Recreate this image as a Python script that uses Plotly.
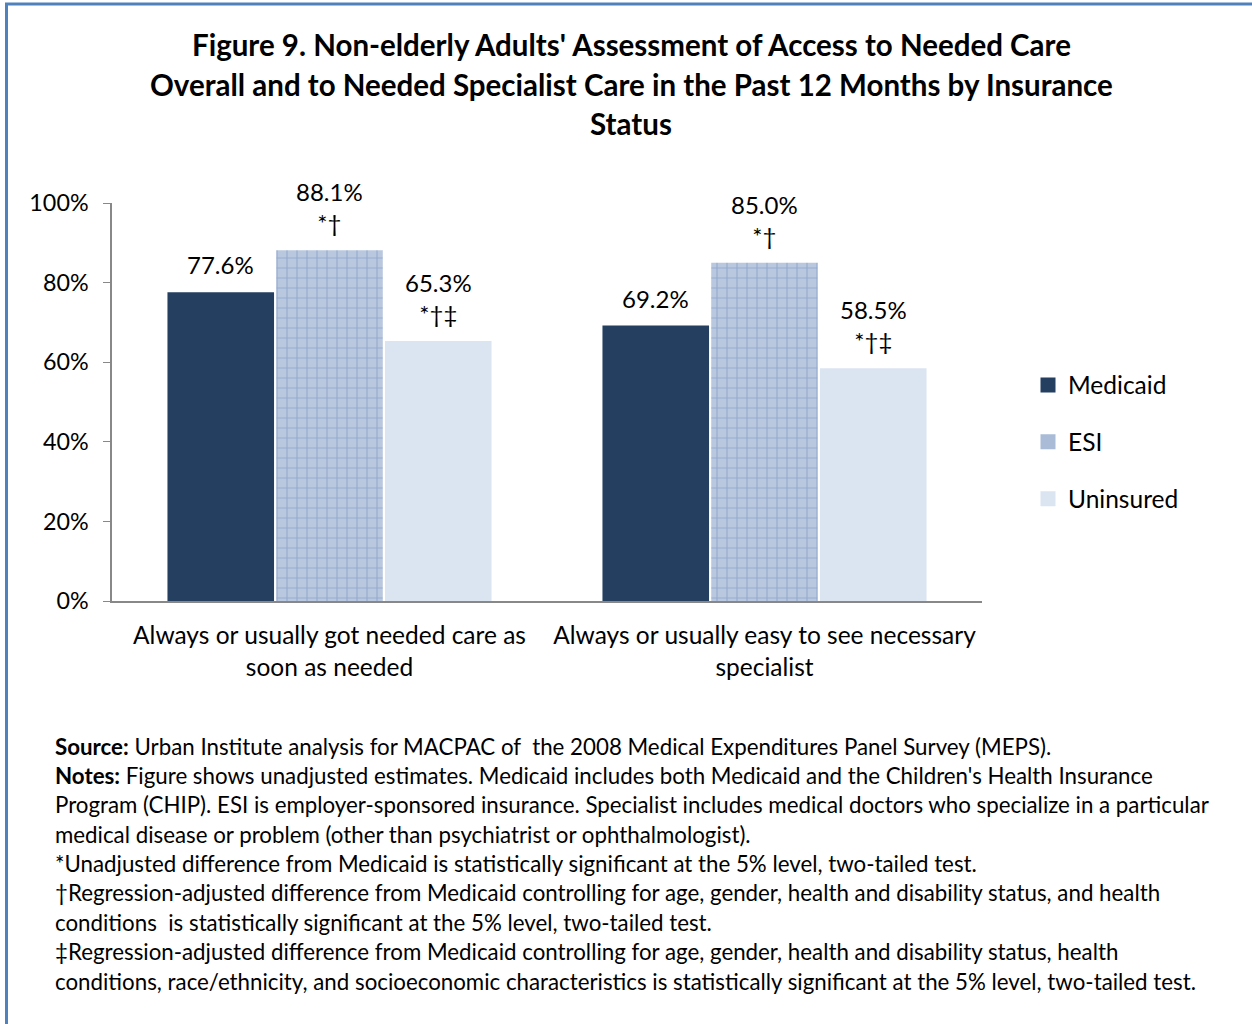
import plotly.graph_objects as go

categories = ["Always or usually got needed care as<br>soon as needed",
              "Always or usually easy to see necessary<br>specialist"]
series_names = ["Medicaid", "ESI", "Uninsured"]
medicaid = [77.6, 69.2]
esi = [88.1, 85.0]
uninsured = [65.3, 58.5]
sig_marks = {"Medicaid": ["", ""], "ESI": ["*†", "*†"], "Uninsured": ["*†‡", "*†‡"]}
y_ticks = [0, 20, 40, 60, 80, 100]
y_tick_labels = ["0%", "20%", "40%", "60%", "80%", "100%"]

title_lines = ["Figure 9. Non-elderly Adults' Assessment of Access to Needed Care",
               "Overall and to Needed Specialist Care in the Past 12 Months by Insurance",
               "Status"]
note_lines = [
    "<b>Source:</b> Urban Institute analysis for MACPAC of  the 2008 Medical Expenditures Panel Survey (MEPS).",
    "<b>Notes:</b> Figure shows unadjusted estimates. Medicaid includes both Medicaid and the Children's Health Insurance",
    "Program (CHIP). ESI is employer-sponsored insurance. Specialist includes medical doctors who specialize in a particular",
    "medical disease or problem (other than psychiatrist or ophthalmologist).",
    "*Unadjusted difference from Medicaid is statistically significant at the 5% level, two-tailed test.",
    "†Regression-adjusted difference from Medicaid controlling for age, gender, health and disability status, and health",
    "conditions  is statistically significant at the 5% level, two-tailed test.",
    "‡Regression-adjusted difference from Medicaid controlling for age, gender, health and disability status, health",
    "conditions, race/ethnicity, and socioeconomic characteristics is statistically significant at the 5% level, two-tailed test.",
]

FONT = "Lato"
W, H = 1252, 1024
L, R, T, B = 112, 270, 203, 423
PW, PH = W - L - R, H - T - B

def px_x(x):
    return (x - L) / PW

def px_y(y):
    return (H - B - y) / PH

xpos = list(range(len(categories)))
colors = {"Medicaid": "#243f60", "ESI": "#a9bbd7", "Uninsured": "#dbe5f1"}
fig = go.Figure()
fig.add_trace(go.Bar(name="Medicaid", x=xpos, y=medicaid, marker=dict(color=colors["Medicaid"], line=dict(width=0)),
                     showlegend=False))
fig.add_trace(go.Bar(name="ESI", x=xpos, y=esi,
                     marker=dict(color="#b3c4de", line=dict(width=0),
                                 pattern=dict(shape="+", fgcolor="#6f8fbf", bgcolor="#b9c8df",
                                              size=10, solidity=0.22)),
                     showlegend=False))
fig.add_trace(go.Bar(name="Uninsured", x=xpos, y=uninsured, marker=dict(color=colors["Uninsured"], line=dict(width=0)),
                     showlegend=False))
# legend entries with larger square swatches
for k, name in enumerate(series_names):
    fig.add_trace(go.Scatter(name=name, x=[None], y=[None], mode="markers", legendgroup=name,
                             marker=dict(symbol="square", size=15, color=colors[name], line=dict(width=0))))

annotations = []
offsets = [-0.25, 0.0, 0.25]
for j, (name, vals) in enumerate(zip(series_names, [medicaid, esi, uninsured])):
    for i, v in enumerate(vals):
        mark = sig_marks[name][i]
        txt = f"{v:.1f}%" + (f"<br>{mark}" if mark else "")
        annotations.append(dict(x=i + offsets[j], y=v, xref="x", yref="y", text=txt, showarrow=False,
                                yanchor="bottom", yshift=11, font=dict(family=FONT, size=24, color="#000"),
                                align="center"))

for k, line in enumerate(title_lines):
    annotations.append(dict(x=px_x(631), y=px_y(45 + 39 * k), xref="paper", yref="paper", text=f"<b>{line}</b>",
                            showarrow=False, xanchor="center", yanchor="middle",
                            font=dict(family=FONT, size=29.5, color="#000")))

for k, line in enumerate(note_lines):
    annotations.append(dict(x=px_x(53), y=px_y(746 + 29.4 * k), xref="paper", yref="paper", text=line,
                            showarrow=False, xanchor="left", yanchor="middle",
                            font=dict(family=FONT, size=22.3, color="#000")))

fig.update_layout(
    width=W, height=H,
    margin=dict(l=L, r=R, t=T, b=B),
    paper_bgcolor="white", plot_bgcolor="white",
    barmode="group", bargap=0.25, bargroupgap=0.02,
    font=dict(family=FONT, size=24, color="#000"),
    showlegend=True,
    legend=dict(x=px_x(1028), y=px_y(442), xanchor="left", yanchor="middle",
                font=dict(family=FONT, size=24.5), traceorder="grouped", tracegroupgap=22,
                itemwidth=30, bgcolor="rgba(0,0,0,0)"),
    xaxis=dict(tickmode="array", tickvals=xpos, ticktext=categories, range=[-0.5, 1.5],
               showline=True, linecolor="#888", linewidth=1.5, showgrid=False, ticks="", zeroline=False,
               ticklabelstandoff=12, tickfont=dict(family=FONT, size=24.5)),
    yaxis=dict(range=[0, 100], tickmode="array", tickvals=y_ticks, ticktext=y_tick_labels,
               showline=True, linecolor="#888", linewidth=1.5, ticks="outside", ticklen=7, tickcolor="#888",
               showgrid=False, zeroline=False, ticklabelstandoff=10, tickfont=dict(family=FONT, size=23.3)),
    annotations=annotations,
    shapes=[dict(type="rect", xref="paper", yref="paper", x0=px_x(6.5), x1=px_x(1300), y0=px_y(1100), y1=px_y(4),
                 line=dict(color="#4f81bd", width=3), fillcolor="rgba(0,0,0,0)", layer="below")],
)

fig.write_html("out.html")
